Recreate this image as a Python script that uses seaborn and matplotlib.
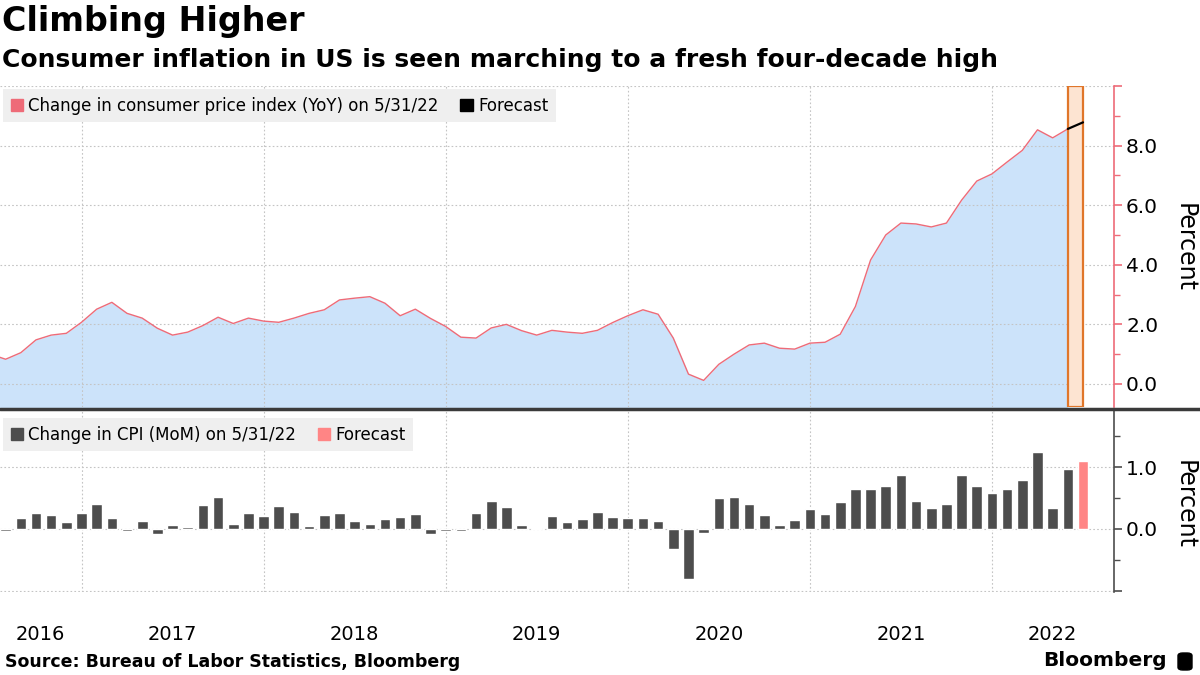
import matplotlib
matplotlib.use("Agg")
import matplotlib.pyplot as plt
from matplotlib.lines import Line2D
from matplotlib.patches import Patch, FancyBboxPatch
import seaborn as sns
import numpy as np
import pandas as pd

# CPI YoY, month-end values Jun 2016 .. May 2022
yoy = [1.00, 0.83, 1.05, 1.48, 1.64, 1.70, 2.07,
       2.51, 2.74, 2.37, 2.21, 1.87, 1.64, 1.74, 1.96, 2.24, 2.03, 2.21, 2.11,
       2.07, 2.21, 2.37, 2.49, 2.82, 2.88, 2.93, 2.71, 2.29, 2.51, 2.20, 1.93,
       1.57, 1.54, 1.88, 2.00, 1.79, 1.64, 1.80, 1.74, 1.70, 1.80, 2.06, 2.29,
       2.49, 2.34, 1.54, 0.33, 0.12, 0.66, 1.00, 1.31, 1.37, 1.20, 1.17, 1.37,
       1.40, 1.67, 2.60, 4.16, 5.00, 5.40, 5.37, 5.27, 5.40, 6.17, 6.81, 7.05,
       7.45, 7.84, 8.53, 8.26, 8.56]
yoy_forecast = [8.56, 8.78]  # May 2022 -> Jun 2022

# CPI MoM, Jul 2016 .. May 2022, plus Jun 2022 forecast
mom = [-0.04, 0.18, 0.26, 0.23, 0.11, 0.26,
       0.41, 0.17, -0.04, 0.13, -0.08, 0.06, 0.03, 0.39, 0.52, 0.08, 0.26, 0.21,
       0.37, 0.28, 0.05, 0.23, 0.26, 0.13, 0.08, 0.16, 0.19, 0.24, -0.08, -0.04,
       -0.03, 0.26, 0.45, 0.36, 0.06, 0.02, 0.21, 0.11, 0.16, 0.28, 0.19, 0.18,
       0.17, 0.13, -0.32, -0.81, -0.06, 0.50, 0.52, 0.41, 0.23, 0.06, 0.15, 0.32,
       0.24, 0.44, 0.65, 0.65, 0.70, 0.88, 0.45, 0.34, 0.41, 0.88, 0.70, 0.58,
       0.65, 0.79, 1.25, 0.34, 0.97]
mom_forecast = 1.10

years = ["2016", "2017", "2018", "2019", "2020", "2021", "2022"]

RED = "#ee6b78"
BLUE_FILL = "#cce3fa"
DARK = "#4d4d4d"
PINK = "#ff8585"
GRID = "#c4c4c4"

# month-end positions in decimal years
p_yoy = pd.period_range("2016-06", "2022-05", freq="M")
x_yoy = p_yoy.year + p_yoy.month / 12
p_fc = pd.period_range("2022-05", "2022-06", freq="M")
x_fc = p_fc.year + p_fc.month / 12
p_mom = pd.period_range("2016-07", "2022-06", freq="M")
df_mom = pd.DataFrame({
    "x": np.round(p_mom.year + p_mom.month / 12, 4),
    "mom": mom + [mom_forecast],
    "kind": ["actual"] * len(mom) + ["forecast"],
})

XMIN, XMAX = 2016.5524, 2022.668

sns.set_style("white")
plt.rcParams["font.family"] = ["DejaVu Sans"]
plt.rcParams["text.color"] = "black"
plt.rcParams["xtick.color"] = "black"
plt.rcParams["ytick.color"] = "black"

fig = plt.figure(figsize=(12, 6.75), dpi=100)
W, H = 1200, 675
ax1 = fig.add_axes([0, 1 - 407 / H, 1113.6 / W, (407 - 86) / H])
ax2 = fig.add_axes([0, 1 - 592 / H, 1113.6 / W, (592 - 411) / H])

# ---- top panel: YoY area
ax1.fill_between(x_yoy, yoy, -2, color=BLUE_FILL, lw=0, zorder=1)
sns.lineplot(x=x_yoy, y=yoy, color=RED, lw=1, ax=ax1, zorder=2)
ax1.axvspan(x_fc[0], x_fc[1], facecolor="#fde4d2", edgecolor="#e0762a", lw=1.6, zorder=3)
sns.lineplot(x=x_fc, y=yoy_forecast, color="black", lw=1.6, ax=ax1, zorder=4)
ax1.set_ylim(-0.773, 10.0)
ax1.set_yticks([0, 2, 4, 6, 8, 10])
ax1.set_yticklabels(["0.0", "2.0", "4.0", "6.0", "8.0", ""])
ax1.set_yticks([1, 3, 5, 7, 9], minor=True)

# ---- bottom panel: MoM bars
sns.barplot(data=df_mom, x="x", y="mom", hue="kind",
            palette={"actual": DARK, "forecast": PINK}, native_scale=True,
            dodge=False, width=0.7, saturation=1, errorbar=None,
            legend=False, ax=ax2)
ax2.set_ylim(-1.02, 1.91)
ax2.set_yticks([-1, 0, 1])
ax2.set_yticklabels(["", "0.0", "1.0"])
ax2.set_yticks([-0.5, 0.5, 1.5], minor=True)

label_pos = [(XMIN + 2017) / 2] + [y + 0.5 for y in range(2017, 2022)] + [(2022 + XMAX) / 2]

for ax, spine_col in [(ax1, RED), (ax2, DARK)]:
    ax.set_xlim(XMIN, XMAX)
    ax.set_xlabel("")
    ax.set_ylabel("")
    ax.set_facecolor("none")
    for s in ["left", "top", "bottom"]:
        ax.spines[s].set_visible(False)
    ax.spines["right"].set_color(spine_col)
    ax.spines["right"].set_linewidth(1.2)
    ax.yaxis.tick_right()
    ax.tick_params(axis="y", which="major", colors=spine_col, labelcolor="black",
                   length=6, width=1.2, pad=3, labelsize=14.5, direction="out")
    ax.tick_params(axis="y", which="minor", colors=spine_col, length=4, width=1)
    ax.set_xticks(range(2017, 2023), minor=True)
    ax.grid(False)
    ax.xaxis.grid(True, which="minor", ls=(0, (1.5, 2)), color=GRID, lw=0.8)
    ax.yaxis.grid(True, which="major", ls=(0, (1.5, 2)), color=GRID, lw=0.8)
    ax.tick_params(axis="x", which="both", length=0)

ax1.set_axisbelow("line")
ax1.set_xticks([])
ax2.set_xticks(label_pos)
ax2.set_xticklabels(years, fontsize=14)
ax2.tick_params(axis="x", which="major", length=0, pad=24, labelcolor="black")

# legends
leg_kw = dict(loc="upper left", ncol=2, frameon=True, facecolor="#efefef",
              edgecolor="none", framealpha=1, fancybox=False, fontsize=12,
              handlelength=0.75, handleheight=0.75, handletextpad=0.3,
              columnspacing=1.3, borderpad=0.45, borderaxespad=0)
ax1.legend(handles=[Patch(color=RED), Patch(color="black")],
           labels=["Change in consumer price index (YoY) on 5/31/22", "Forecast"],
           bbox_to_anchor=(0.003, 0.99), **leg_kw)
ax2.legend(handles=[Patch(color=DARK), Patch(color=PINK)],
           labels=["Change in CPI (MoM) on 5/31/22", "Forecast"],
           bbox_to_anchor=(0.003, 0.96), **leg_kw)

# axis titles on the right
fig.text(1185 / W, 1 - 247 / H, "Percent", rotation=270, ha="center", va="center", fontsize=17)
fig.text(1185 / W, 1 - 505 / H, "Percent", rotation=270, ha="center", va="center", fontsize=17)

# separator between panels
fig.add_artist(Line2D([0, 1], [1 - 408.5 / H, 1 - 408.5 / H], color="#3a3a3a", lw=2.5))

# titles and footer
fig.text(0.002, 1 - 22 / H, "Climbing Higher", fontsize=24, fontweight="bold", va="center")
fig.text(0.002, 1 - 60 / H, "Consumer inflation in US is seen marching to a fresh four-decade high",
         fontsize=18, fontweight="bold", va="center")
fig.text(0.004, 1 - 662 / H, "Source: Bureau of Labor Statistics, Bloomberg",
         fontsize=12.5, fontweight="bold", va="center")
fig.text(1167 / W, 1 - 661 / H, "Bloomberg", fontsize=14.5, fontweight="bold",
         va="center", ha="right")
fig.add_artist(FancyBboxPatch((1178 / W, 1 - 670 / H), 14 / W, 17 / H,
                              boxstyle="round,pad=0,rounding_size=0.004",
                              transform=fig.transFigure, color="black"))

fig.savefig("out.png", dpi=100)
